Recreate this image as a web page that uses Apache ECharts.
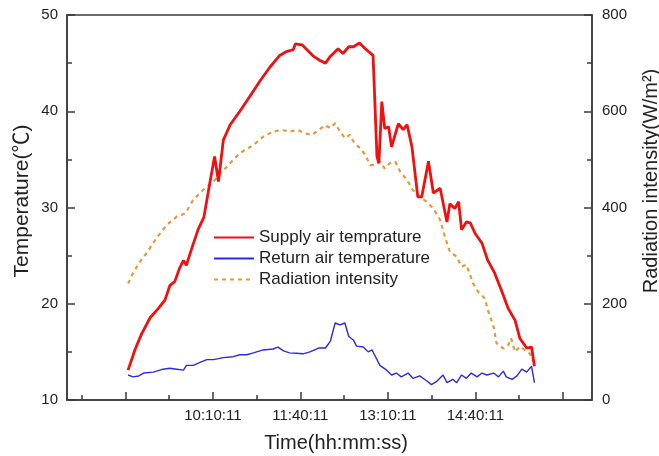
<!DOCTYPE html>
<html>
<head>
<meta charset="utf-8">
<title>Supply / return air temperature and radiation intensity</title>
<script src="https://cdn.jsdelivr.net/npm/echarts@6/dist/echarts.min.js"></script>
<style>
  html, body { margin: 0; padding: 0; background: #fff; }
  #chart { width: 659px; height: 456px; }
</style>
</head>
<body>
<div id="chart"></div>
<script>
// Time axis: 07:40:11 .. 16:40:11, labelled ticks every 90 minutes
const axisStart = '07:40:11';
const axisEnd = '16:40:11';
const majorTickTimes = ['08:40:11', '10:10:11', '11:40:11', '13:10:11', '14:40:11', '16:10:11'];
const minorTickTimes = ['07:55:11', '09:25:11', '10:55:11', '12:25:11', '13:55:11', '15:25:11'];
const tickLabels = ['10:10:11', '11:40:11', '13:10:11', '14:40:11'];

// Supply air temperature (℃)
const supplyTime = ['8:43','8:50','8:57','9:06','9:14','9:21','9:26','9:31','9:36','9:40','9:43','9:48','9:55','10:01','10:07','10:12','10:16','10:21','10:28','10:38','10:48','10:59','11:09','11:19','11:26','11:33','11:35','11:42','11:47','11:54','12:00','12:06','12:11','12:19','12:24','12:30','12:35','12:41','12:47','12:55','12:59','13:01','13:04','13:07','13:11','13:14','13:21','13:26','13:30','13:35','13:41','13:45','13:52','13:57','14:04','14:11','14:14','14:19','14:23','14:26','14:31','14:35','14:40','14:47','14:53','15:00','15:07','15:14','15:21','15:26','15:33','15:38','15:41'];
const supplyTemp = [13.1,15.2,16.9,18.6,19.5,20.4,21.9,22.3,23.7,24.5,24.0,25.6,27.7,29.0,32.5,35.3,32.7,37.0,38.6,40.0,41.5,43.2,44.6,45.8,46.2,46.4,47.0,46.9,46.4,45.7,45.3,45.0,45.7,46.5,46.0,46.7,46.7,47.1,46.5,45.8,35.3,34.6,41.0,38.2,38.4,36.3,38.7,38.1,38.6,36.3,31.1,31.1,34.8,31.5,32.0,28.5,30.4,29.9,30.6,27.7,28.5,28.4,27.3,26.3,24.5,23.2,21.4,19.5,18.3,16.4,15.4,15.5,13.5];

// Return air temperature (℃)
const returnTime = ['8:43','8:48','8:54','8:59','9:09','9:19','9:26','9:33','9:40','9:43','9:50','9:57','10:04','10:11','10:21','10:31','10:38','10:45','10:52','11:02','11:12','11:17','11:23','11:29','11:36','11:43','11:50','11:59','12:06','12:11','12:16','12:21','12:26','12:30','12:35','12:38','12:45','12:50','12:54','12:57','13:02','13:09','13:14','13:19','13:24','13:31','13:36','13:43','13:50','13:55','14:00','14:07','14:11','14:17','14:21','14:26','14:31','14:36','14:42','14:47','14:52','14:59','15:04','15:09','15:12','15:18','15:23','15:28','15:33','15:38','15:41'];
const returnTemp = [12.6,12.4,12.5,12.8,12.9,13.2,13.3,13.2,13.1,13.6,13.6,13.9,14.2,14.2,14.4,14.5,14.7,14.7,14.9,15.2,15.3,15.5,15.1,14.9,14.85,14.8,15.0,15.4,15.4,16.1,18.0,17.8,18.0,16.6,16.2,15.6,15.5,15.0,15.2,14.6,13.6,13.1,12.6,12.8,12.4,12.8,12.25,12.5,12.0,11.6,11.9,12.6,11.8,12.15,11.8,12.6,12.25,12.8,12.4,12.8,12.6,12.8,12.4,13.0,12.4,12.15,12.5,13.2,12.9,13.5,11.8];

// Radiation intensity (W/m²)
const radTime = ['8:43','8:48','8:55','9:02','9:12','9:23','9:33','9:42','9:50','10:00','10:11','10:18','10:28','10:38','10:52','11:02','11:12','11:21','11:29','11:38','11:45','11:52','11:59','12:06','12:11','12:16','12:21','12:26','12:31','12:36','12:42','12:47','12:52','12:57','13:02','13:07','13:12','13:18','13:23','13:30','13:36','13:43','13:50','13:57','14:04','14:09','14:14','14:21','14:26','14:31','14:38','14:43','14:50','14:53','14:59','15:02','15:09','15:14','15:17','15:21','15:26','15:31','15:36','15:40'];
const radValue = [242,263,287,305,336,364,381,388,416,436,454,471,492,513,530,547,558,561,558,561,554,551,561,571,565,575,558,544,551,533,523,509,488,488,495,481,492,495,474,457,436,422,412,398,374,339,308,298,277,281,242,225,211,187,152,118,107,114,128,100,111,104,97,80];

const seriesNames = ['Supply air temprature', 'Return air temperature', 'Radiation intensity'];

// "h:mm[:ss]" -> minutes since midnight
function toMinutes(s) {
  const p = s.split(':').map(Number);
  return p[0] * 60 + p[1] + (p[2] || 0) / 60;
}
function toClock(m) {
  const total = Math.round(m * 60);
  const h = Math.floor(total / 3600);
  const mm = Math.floor((total % 3600) / 60);
  const ss = total % 60;
  const pad = v => String(v).padStart(2, '0');
  return pad(h) + ':' + pad(mm) + ':' + pad(ss);
}
function pairs(times, values) {
  return times.map((t, i) => [toMinutes(t), values[i]]);
}

const FONT = '"Liberation Sans", Arial, "Noto Sans CJK SC", sans-serif';
const INK = '#222';
const AXIS = '#3a3a3a';

const chart = echarts.init(document.getElementById('chart'), null, { renderer: 'canvas' });

const xMin = toMinutes(axisStart);
const xMax = toMinutes(axisEnd);

chart.setOption({
  animation: false,
  backgroundColor: '#fff',
  grid: {
    left: 67, right: 67, top: 15, bottom: 56,
    show: true, borderColor: AXIS, borderWidth: 1.5, backgroundColor: 'transparent'
  },
  legend: {
    orient: 'vertical',
    left: 213, top: 229, padding: 0,
    itemWidth: 40, itemHeight: 14, itemGap: 4,
    itemStyle: { opacity: 0 },
    textStyle: { fontFamily: FONT, fontSize: 17, color: INK },
    data: seriesNames
  },
  xAxis: [{
    type: 'value', min: xMin, max: xMax, position: 'bottom',
    axisLine: { show: true, lineStyle: { color: AXIS, width: 1.5 } },
    axisTick: { show: true, inside: true, length: 8, customValues: majorTickTimes.map(toMinutes),
                lineStyle: { color: AXIS, width: 1.5 } },
    axisLabel: { show: true, customValues: tickLabels.map(toMinutes), formatter: v => toClock(v),
                 fontFamily: FONT, fontSize: 15, color: INK, margin: 8 },
    splitLine: { show: false }
  }, {
    type: 'value', min: xMin, max: xMax, position: 'bottom',
    axisLine: { show: false },
    axisTick: { show: true, inside: true, length: 5, customValues: minorTickTimes.map(toMinutes),
                lineStyle: { color: AXIS, width: 1.5 } },
    axisLabel: { show: false },
    splitLine: { show: false }
  }],
  yAxis: [{
    type: 'value', min: 10, max: 50, interval: 10, position: 'left',
    axisLine: { show: true, lineStyle: { color: AXIS, width: 1.5 } },
    axisTick: { show: true, inside: true, length: 8, lineStyle: { color: AXIS, width: 1.5 } },
    minorTick: { show: true, splitNumber: 2, length: 5, lineStyle: { color: AXIS, width: 1.5 } },
    axisLabel: { fontFamily: FONT, fontSize: 15, color: INK, margin: 9 },
    splitLine: { show: false }
  }, {
    type: 'value', min: 0, max: 800, interval: 200, position: 'right',
    axisLine: { show: true, lineStyle: { color: AXIS, width: 1.5 } },
    axisTick: { show: true, inside: true, length: 8, lineStyle: { color: AXIS, width: 1.5 } },
    minorTick: { show: true, splitNumber: 2, length: 5, lineStyle: { color: AXIS, width: 1.5 } },
    axisLabel: { fontFamily: FONT, fontSize: 15, color: INK, margin: 10 },
    splitLine: { show: false }
  }],
  graphic: [{
    type: 'text', x: 22, y: 201, rotation: Math.PI / 2,
    style: { text: 'Temperature(℃)', font: '21px ' + FONT, fill: INK, align: 'center', verticalAlign: 'middle' }
  }, {
    type: 'text', x: 651, y: 181, rotation: Math.PI / 2,
    style: { text: 'Radiation intensity(W/m²)', font: '20px ' + FONT, fill: INK, align: 'center', verticalAlign: 'middle' }
  }, {
    type: 'text', x: 336, y: 443,
    style: { text: 'Time(hh:mm:ss)', font: '20px ' + FONT, fill: INK, align: 'center', verticalAlign: 'middle' }
  }],
  series: [{
    name: seriesNames[0], type: 'line', xAxisIndex: 0, yAxisIndex: 0,
    symbol: 'none', data: pairs(supplyTime, supplyTemp),
    lineStyle: { color: '#f01010', width: 2.8 }, itemStyle: { color: '#f01010' }, z: 3
  }, {
    name: seriesNames[1], type: 'line', xAxisIndex: 0, yAxisIndex: 0,
    symbol: 'none', data: pairs(returnTime, returnTemp),
    lineStyle: { color: '#2a2ae8', width: 1.4 }, itemStyle: { color: '#2a2ae8' }, z: 2
  }, {
    name: seriesNames[2], type: 'line', xAxisIndex: 0, yAxisIndex: 1,
    symbol: 'none', data: pairs(radTime, radValue),
    lineStyle: { color: '#e39a3a', width: 2.2, type: [4, 4] }, itemStyle: { color: '#e39a3a' }, z: 1
  }]
});
</script>
</body>
</html>
